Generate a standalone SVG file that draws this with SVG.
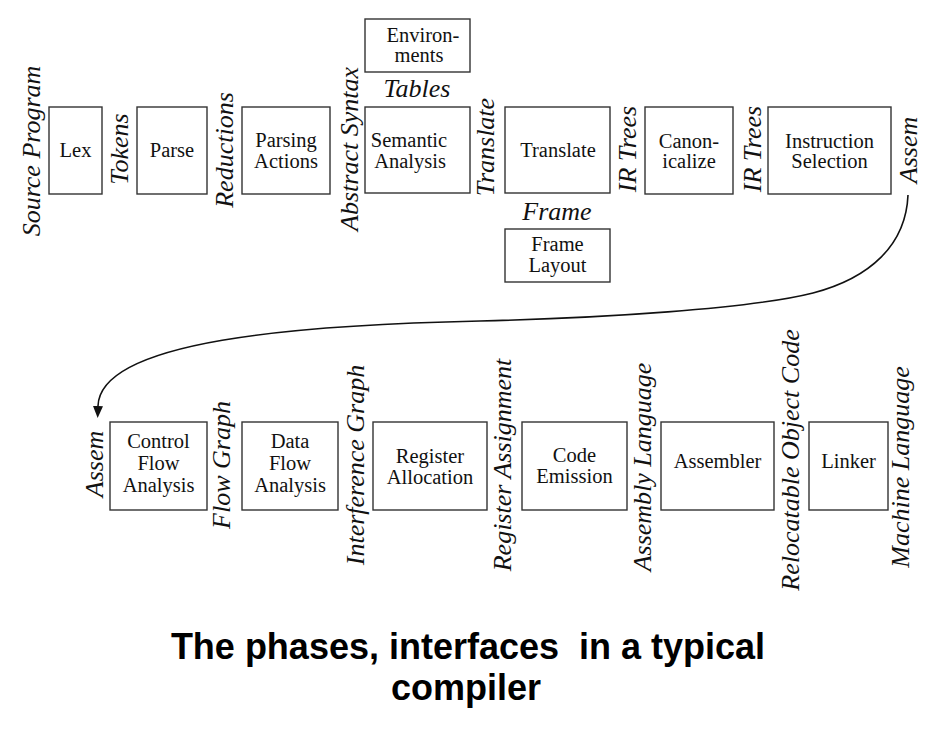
<svg xmlns="http://www.w3.org/2000/svg" width="946" height="731" viewBox="0 0 946 731">
<defs>
<style>
.box{fill:#fff;stroke:#333;stroke-width:1.4}
.t{font-family:"Liberation Serif","Times New Roman","DejaVu Serif",serif;font-size:20.5px;font-style:normal;font-weight:normal;fill:#111;text-anchor:middle}
.l{font-family:"Liberation Serif","Times New Roman","DejaVu Serif",serif;font-size:26px;font-style:italic;fill:#111;text-anchor:middle}
.h{font-family:"Liberation Sans",Arial,sans-serif;font-size:36px;font-weight:bold;fill:#000;text-anchor:middle}
.c{fill:none;stroke:#111;stroke-width:1.6}
</style>
<marker id="ah" markerWidth="12" markerHeight="10" refX="0" refY="5" orient="auto" markerUnits="userSpaceOnUse">
<path d="M0,0 L12,5 L0,10 z" fill="#111"/>
</marker>
</defs>
<rect width="946" height="731" fill="#fff"/>

<g id="connectors">
<path class="c" d="M908,195 C906,245 870,278 813,293 C750,309 600,318 480,321 C300,325 100,340 98,406" marker-end="url(#ah)"/>
</g>

<g id="lex"><rect class="box" x="49" y="107" width="53" height="87"/><text class="t" font-family="Liberation Serif, serif" x="75.5" y="157">Lex</text></g>
<g id="parse"><rect class="box" x="137" y="107" width="70" height="87"/><text class="t" x="172" y="157">Parse</text></g>
<g id="parsing-actions"><rect class="box" x="242" y="107" width="88" height="87"/><text class="t" x="286" y="147">Parsing</text><text class="t" x="286" y="168">Actions</text></g>
<g id="semantic-analysis"><rect class="box" x="365" y="107" width="105" height="86"/><text class="t" x="409" y="147">Semantic</text><text class="t" x="410" y="168">Analysis</text></g>
<g id="environments"><rect class="box" x="365" y="19" width="105" height="53"/><text class="t" x="423" y="42">Environ-</text><text class="t" x="419" y="62">ments</text></g>
<g id="translate"><rect class="box" x="505" y="107" width="105" height="86"/><text class="t" x="558" y="157">Translate</text></g>
<g id="frame-layout"><rect class="box" x="505" y="229" width="105" height="53"/><text class="t" x="557.5" y="251">Frame</text><text class="t" x="557.5" y="272">Layout</text></g>
<g id="canonicalize"><rect class="box" x="645" y="107" width="88" height="87"/><text class="t" x="689" y="148">Canon-</text><text class="t" x="689" y="168">icalize</text></g>
<g id="instruction-selection"><rect class="box" x="768" y="107" width="123" height="87"/><text class="t" x="829.5" y="148">Instruction</text><text class="t" x="829.5" y="168">Selection</text></g>

<g id="control-flow-analysis"><rect class="box" x="110" y="422" width="97" height="88"/><text class="t" x="158.5" y="448">Control</text><text class="t" x="158.5" y="470">Flow</text><text class="t" x="158.5" y="492">Analysis</text></g>
<g id="data-flow-analysis"><rect class="box" x="242" y="422" width="96" height="88"/><text class="t" x="290" y="448">Data</text><text class="t" x="290" y="470">Flow</text><text class="t" x="290" y="492">Analysis</text></g>
<g id="register-allocation"><rect class="box" x="373" y="422" width="114" height="88"/><text class="t" x="430" y="463">Register</text><text class="t" x="430" y="484">Allocation</text></g>
<g id="code-emission"><rect class="box" x="522" y="422" width="105" height="88"/><text class="t" x="574.5" y="462">Code</text><text class="t" x="574.5" y="483">Emission</text></g>
<g id="assembler"><rect class="box" x="661" y="422" width="113" height="88"/><text class="t" x="717.5" y="468">Assembler</text></g>
<g id="linker"><rect class="box" x="809" y="422" width="79" height="88"/><text class="t" x="848.5" y="468">Linker</text></g>

<g id="labels">
<text class="l" transform="translate(40,151) rotate(-90)">Source Program</text>
<text class="l" transform="translate(128,149) rotate(-90)">Tokens</text>
<text class="l" transform="translate(233,150) rotate(-90)">Reductions</text>
<text class="l" transform="translate(358,149) rotate(-90)">Abstract Syntax</text>
<text class="l" x="417" y="97">Tables</text>
<text class="l" transform="translate(494,147) rotate(-90)">Translate</text>
<text class="l" x="557" y="220">Frame</text>
<text class="l" transform="translate(636,149) rotate(-90)">IR Trees</text>
<text class="l" transform="translate(761,149) rotate(-90)">IR Trees</text>
<text class="l" transform="translate(917,150) rotate(-90)">Assem</text>
<text class="l" transform="translate(103,464) rotate(-90)">Assem</text>
<text class="l" transform="translate(230,465) rotate(-90)">Flow Graph</text>
<text class="l" transform="translate(364,465) rotate(-90)">Interference Graph</text>
<text class="l" transform="translate(511,465) rotate(-90)">Register Assignment</text>
<text class="l" transform="translate(651,467) rotate(-90)">Assembly Language</text>
<text class="l" transform="translate(799,460) rotate(-90)">Relocatable Object Code</text>
<text class="l" transform="translate(909,467) rotate(-90)">Machine Language</text>
</g>

<g id="title">
<text class="h" x="468" y="659" xml:space="preserve">The phases, interfaces  in a typical</text>
<text class="h" x="466" y="700">compiler</text>
</g>
</svg>
